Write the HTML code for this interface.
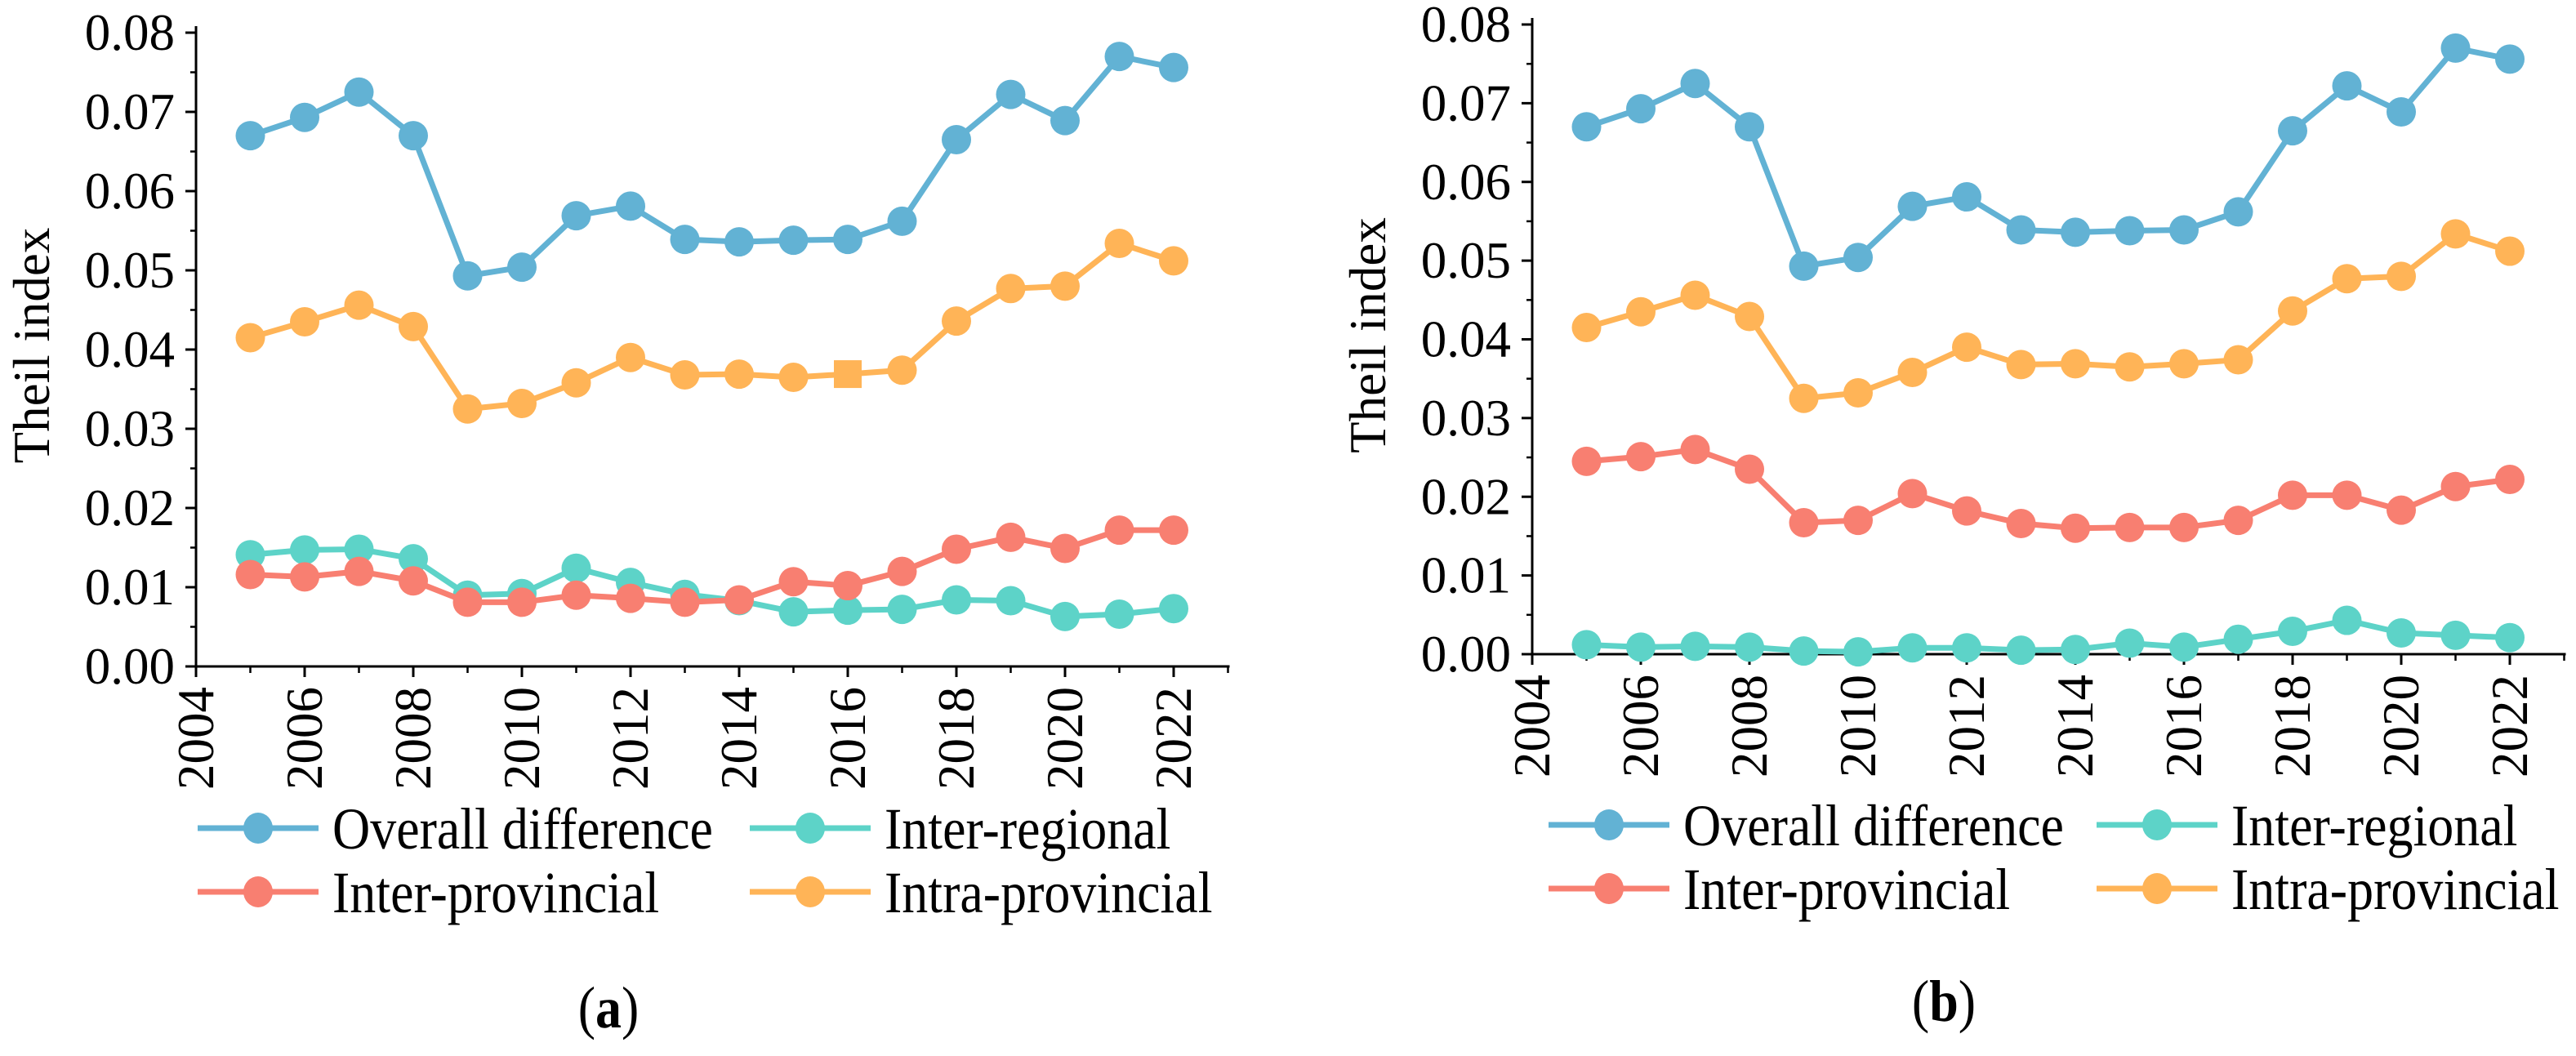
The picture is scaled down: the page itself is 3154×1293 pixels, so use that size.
<!DOCTYPE html>
<html><head><meta charset="utf-8"><style>
html,body{margin:0;padding:0;background:#fff;}
svg{display:block;font-family:"Liberation Serif",serif;}
</style></head><body>
<svg id="fig" width="3154" height="1293" viewBox="0 0 3154 1293" xmlns="http://www.w3.org/2000/svg"></svg>
<script>
const years = [2005,2006,2007,2008,2009,2010,2011,2012,2013,2014,2015,2016,2017,2018,2019,2020,2021,2022];
const yTicks = [0,0.01,0.02,0.03,0.04,0.05,0.06,0.07,0.08];
const yTickLabels = ["0.00","0.01","0.02","0.03","0.04","0.05","0.06","0.07","0.08"];
const xTickLabels = ["2004","2006","2008","2010","2012","2014","2016","2018","2020","2022"];
const overall = [0.0670,0.0693,0.0725,0.0670,0.0493,0.0504,0.0569,0.0581,0.0539,0.0536,0.0538,0.0539,0.0562,0.0665,0.0722,0.0689,0.0770,0.0756];
const intraProv = [0.0415,0.0435,0.0456,0.0429,0.0325,0.0332,0.0358,0.0390,0.0368,0.0369,0.0365,0.0369,0.0374,0.0436,0.0477,0.0480,0.0534,0.0512];
const interRegA = [0.0141,0.0147,0.0148,0.0136,0.0090,0.0092,0.0124,0.0106,0.0091,0.0083,0.0069,0.0071,0.0072,0.0084,0.0083,0.0063,0.0066,0.0073];
const interProvA = [0.0116,0.0113,0.0120,0.0108,0.0081,0.0081,0.0090,0.0086,0.0081,0.0084,0.0107,0.0102,0.0120,0.0148,0.0163,0.0149,0.0172,0.0172];
const interRegB = [0.0012,0.0009,0.0010,0.0009,0.0004,0.0003,0.0008,0.0008,0.0005,0.0006,0.0014,0.0009,0.0019,0.0029,0.0043,0.0027,0.0024,0.0021];
const interProvB = [0.0245,0.0251,0.0260,0.0235,0.0167,0.0170,0.0204,0.0182,0.0166,0.0160,0.0161,0.0161,0.0170,0.0202,0.0202,0.0183,0.0213,0.0222];
const seriesNames = ["Overall difference","Inter-regional","Inter-provincial","Intra-provincial"];
const colors = {"Overall difference":"#62b2d4","Inter-regional":"#5dd3c8","Inter-provincial":"#f87f71","Intra-provincial":"#ffb457"};

const NS="http://www.w3.org/2000/svg";
const svg=document.getElementById('fig');
function mk(tag,attrs,parent){const e=document.createElementNS(NS,tag);for(const k in attrs)e.setAttribute(k,attrs[k]);(parent||svg).appendChild(e);return e;}

function panel(id,ax,top,bottom,seriesData,caption,capX,capY,legY,legX){
  const g=mk('g',{});
  
  
  const yearW=66.5;
  const xs=y=>ax+(y-2004)*yearW;
  const ys=v=>bottom-(v/0.08)*(bottom-top);
  const right=xs(2023);
  const yAxis=mk('line',{x1:ax,y1:top-8,x2:ax,y2:bottom,stroke:'#000','stroke-width':3},g);
  
  
  const xAxis=mk('line',{x1:ax-12,y1:bottom,x2:right+2,y2:bottom,stroke:'#000','stroke-width':3},g);
  
  
  yTicks.forEach((v,i)=>{
    mk('line',{x1:ax-13,y1:ys(v),x2:ax,y2:ys(v),stroke:'#000','stroke-width':3},g);
    if(i<yTicks.length-1) mk('line',{x1:ax-7,y1:ys(v+0.005),x2:ax,y2:ys(v+0.005),stroke:'#000','stroke-width':2.5},g);
    const t=mk('text',{x:ax-26,y:ys(v)+21,'text-anchor':'end','font-size':63},g);
    t.textContent=yTickLabels[i];
    
    
  });
  for(let y=2004;y<=2023;y++){
    const major=(y%2===0);
    mk('line',{x1:xs(y),y1:bottom,x2:xs(y),y2:bottom+(major?13:8),stroke:'#000','stroke-width':major?3:2.5},g);
  }
  xTickLabels.forEach(l=>{
    const x=xs(+l);
    const t=mk('text',{x:0,y:0,'text-anchor':'end','font-size':63,transform:`translate(${x+21},${bottom+25}) rotate(-90)`},g);
    t.textContent=l;
    
    
  });
  const yl=mk('text',{x:0,y:0,'text-anchor':'middle','font-size':63,transform:`translate(${ax-180},${(top+bottom)/2-5}) rotate(-90)`},g);
  yl.textContent='Theil index';
  
  
  seriesData.forEach(s=>{
    const sg=mk('g',{},g);
    
    
    const pts=s.values.map((v,i)=>xs(years[i])+','+ys(v)).join(' ');
    mk('polyline',{points:pts,fill:'none',stroke:colors[s.name],'stroke-width':7,'stroke-linejoin':'round'},sg);
    s.values.forEach((v,i)=>{
      let m;
      if(s.square===i){ m=mk('rect',{x:xs(years[i])-17,y:ys(v)-17,width:34,height:34,fill:colors[s.name]},sg); }
      else m=mk('ellipse',{cx:xs(years[i]),cy:ys(v),rx:18,ry:18,fill:colors[s.name]},sg);
      
      
    });
  });
  const lg=mk('g',{},g);
  
  
  const pos=[[legX[0],legY[0]],[legX[1],legY[0]],[legX[0],legY[1]],[legX[1],legY[1]]];
  seriesNames.forEach((n,i)=>{
    const [lx,ly]=pos[i];
    const eg=mk('g',{},lg);
    
    
    mk('line',{x1:lx,y1:ly,x2:lx+148,y2:ly,stroke:colors[n],'stroke-width':7},eg);
    mk('ellipse',{cx:lx+74,cy:ly,rx:18,ry:19,fill:colors[n]},eg);
    const t=mk('text',{x:0,y:0,'font-size':64,transform:`translate(${lx+165},${ly+25}) scale(1,1.13)`},eg);
    t.textContent=n;
  });
  const c=mk('text',{x:0,y:0,'text-anchor':'middle','font-size':64,transform:`translate(${capX},${capY}) scale(1,1.13)`},g);
  c.innerHTML='(<tspan font-weight="bold">'+caption+'</tspan>)';
  
  
}

panel('a',240,40,816,[
  {name:"Overall difference",values:overall},
  {name:"Intra-provincial",values:intraProv,square:11},
  {name:"Inter-regional",values:interRegA},
  {name:"Inter-provincial",values:interProvA}
],'a',745,1258,[1014,1092],[242,918]);

panel('b',1876,30,801,[
  {name:"Overall difference",values:overall},
  {name:"Intra-provincial",values:intraProv},
  {name:"Inter-provincial",values:interProvB},
  {name:"Inter-regional",values:interRegB}
],'b',2380,1250,[1010,1088],[1896,2567]);
</script>
</body></html>
